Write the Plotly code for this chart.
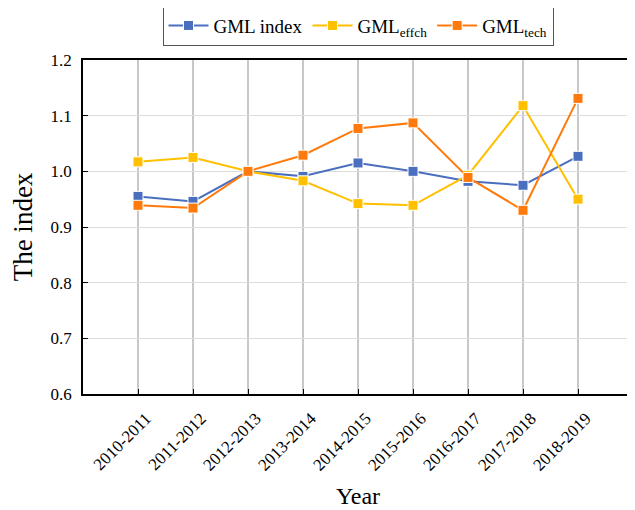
import plotly.graph_objects as go

years = ["2010-2011", "2011-2012", "2012-2013", "2013-2014", "2014-2015",
         "2015-2016", "2016-2017", "2017-2018", "2018-2019"]
gml_index = [0.955, 0.946, 1.000, 0.991, 1.015, 1.000, 0.982, 0.975, 1.027]
gml_effch = [1.017, 1.025, 1.000, 0.983, 0.942, 0.939, 0.993, 1.118, 0.950]
gml_tech = [0.939, 0.934, 1.000, 1.029, 1.077, 1.087, 0.989, 0.930, 1.131]
y_ticks = [0.6, 0.7, 0.8, 0.9, 1.0, 1.1, 1.2]

series = [
    ("GML index", gml_index, "#4A6FBF"),
    ("GML<sub>effch</sub>", gml_effch, "#FFC000"),
    ("GML<sub>tech</sub>", gml_tech, "#FF7A0A"),
]

fig = go.Figure()
for name, vals, color in series:
    fig.add_trace(go.Scatter(
        x=list(range(len(years))), y=vals, name=name, mode="lines+markers",
        line=dict(color=color, width=2),
        marker=dict(symbol="square", size=10, color=color,
                    line=dict(color="white", width=1)),
    ))

ff = "Liberation Serif"
fig.update_layout(
    width=635, height=510,
    margin=dict(l=75, r=10, t=52, b=124, autoexpand=False),
    paper_bgcolor="white", plot_bgcolor="white",
    font=dict(family=ff, size=17, color="black"),
    legend=dict(orientation="h", x=0.5, xanchor="center", y=1.103, yanchor="middle",
                bordercolor="#555555", borderwidth=1,
                font=dict(family=ff, size=19, color="black"),
                itemwidth=40, tracegroupgap=0),
    showlegend=True,
)
fig.update_xaxes(
    range=[-1, 9], tickmode="array", tickvals=list(range(len(years))), ticktext=years,
    tickangle=-45, ticks="inside", ticklen=5, tickcolor="black",
    showline=True, linecolor="black", linewidth=1.5, mirror=True,
    showgrid=True, gridcolor="#C8C8C8", gridwidth=1.5, zeroline=False,
    automargin=False, ticklabelstandoff=6, ticklabelshift=8,
    title=dict(text="Year", font=dict(family=ff, size=24, color="black"), standoff=14),
    tickfont=dict(family=ff, size=17, color="black"),
)
fig.update_yaxes(
    range=[0.6, 1.2], tickmode="array", tickvals=y_ticks,
    ticktext=[f"{v:.1f}" for v in y_ticks],
    ticks="inside", ticklen=5, tickcolor="black",
    showline=True, linecolor="black", linewidth=1.5, mirror=True,
    showgrid=True, gridcolor="#DCDCDC", gridwidth=1, zeroline=False,
    automargin=False, ticklabelstandoff=6,
    title=dict(text="The index", font=dict(family=ff, size=27, color="black"), standoff=12),
    tickfont=dict(family=ff, size=17, color="black"),
)

fig.write_html("out.html")
